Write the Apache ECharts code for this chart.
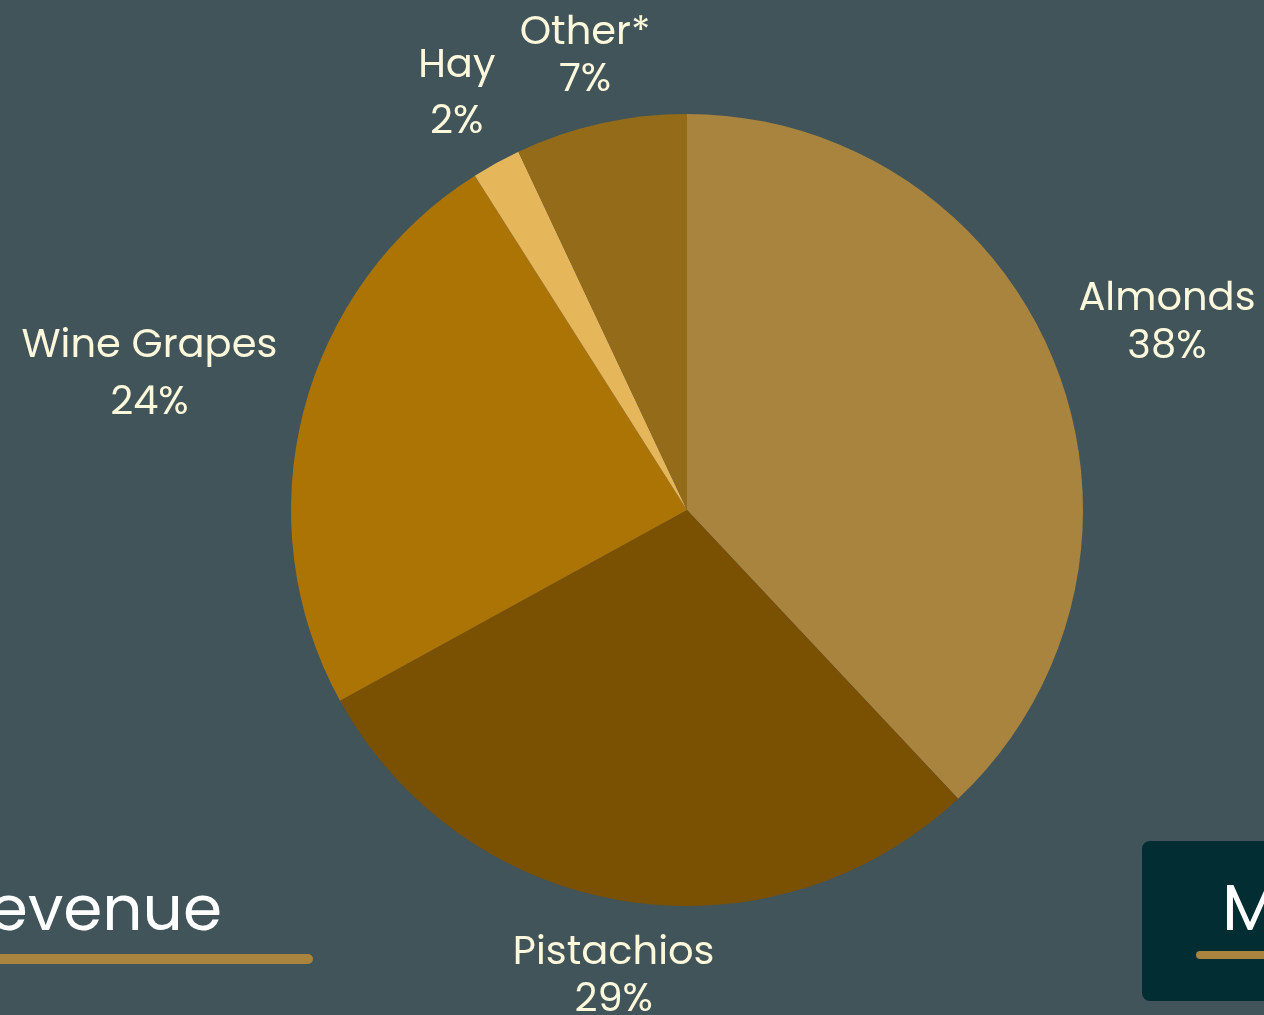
<!DOCTYPE html>
<html>
<head>
<meta charset="utf-8">
<script src="https://cdn.jsdelivr.net/npm/echarts@6/dist/echarts.min.js"></script>
<style>
html,body{margin:0;padding:0;background:#40545a;overflow:hidden;}
#chart{width:1264px;height:1015px;}
</style>
</head>
<body>
<div id="chart"></div>
<script>
const categories = ['Almonds', 'Pistachios', 'Wine Grapes', 'Hay', 'Other*'];
const shares = [38, 29, 24, 2, 7];
const sliceColors = ['#a8843f', '#7a5003', '#ab7405', '#e6b65a', '#946b19'];
const lineHeights = [48, 47, 57, 56, 47];

const FONT = 'Poppins, "DejaVu Sans", sans-serif';
const LABEL_SIZE = 40;
const CX = 687, CY = 510, R = 396;
const total = shares.reduce((a, b) => a + b, 0);

const measureCtx = document.createElement('canvas').getContext('2d');
measureCtx.font = LABEL_SIZE + 'px ' + FONT;
function textWidth(str) {
  return Math.max.apply(null, str.split('\n').map(s => measureCtx.measureText(s).width));
}

const chart = echarts.init(document.getElementById('chart'), null, {renderer: 'canvas'});

chart.setOption({
  backgroundColor: '#40545a',
  animation: false,
  series: [{
    type: 'pie',
    center: [CX, CY],
    radius: R,
    startAngle: 90,
    clockwise: true,
    emphasis: {disabled: true},
    itemStyle: {borderWidth: 0},
    labelLine: {show: false},
    label: {
      show: true,
      position: 'outside',
      color: '#fdf8dc',
      fontFamily: FONT,
      fontSize: LABEL_SIZE,
      width: 600,
      overflow: 'none',
      formatter: p => p.name + '\n' + p.value + '%'
    },
    labelLayout: function (params) {
      const i = params.dataIndex;
      let cum = 0;
      for (let k = 0; k < i; k++) cum += shares[k];
      const a = (cum + shares[i] / 2) / total * Math.PI * 2;
      const s = Math.sin(a), c = Math.cos(a);
      const w = textWidth(categories[i] + '\n' + shares[i] + '%') + 20;
      const h = lineHeights[i] * 2 - 6;
      const ext = Math.abs(s) * w / 2 + Math.abs(c) * h / 2;
      const d = R + 12 + ext;
      return {x: CX + d * s, y: CY - d * c + 4, align: 'center', verticalAlign: 'middle'};
    },
    data: categories.map((name, i) => ({
      name: name,
      value: shares[i],
      itemStyle: {color: sliceColors[i]},
      label: {lineHeight: lineHeights[i]}
    }))
  }],
  graphic: [
    {type: 'text', x: 222, y: 883, style: {text: 'Revenue', font: '400 63px ' + FONT, fill: '#ffffff', align: 'right', verticalAlign: 'top'}},
    {type: 'rect', shape: {x: -20, y: 954, width: 333, height: 10, r: 5}, style: {fill: '#a8843f'}},
    {type: 'rect', shape: {x: 1142, y: 841, width: 220, height: 160, r: 8}, style: {fill: '#022d33'}},
    {type: 'text', x: 1222, y: 881, style: {text: 'M', font: '400 65px ' + FONT, fill: '#ffffff', align: 'left', verticalAlign: 'top'}},
    {type: 'rect', shape: {x: 1196, y: 951, width: 200, height: 8, r: 4}, style: {fill: '#a8843f'}}
  ]
});
</script>
</body>
</html>
